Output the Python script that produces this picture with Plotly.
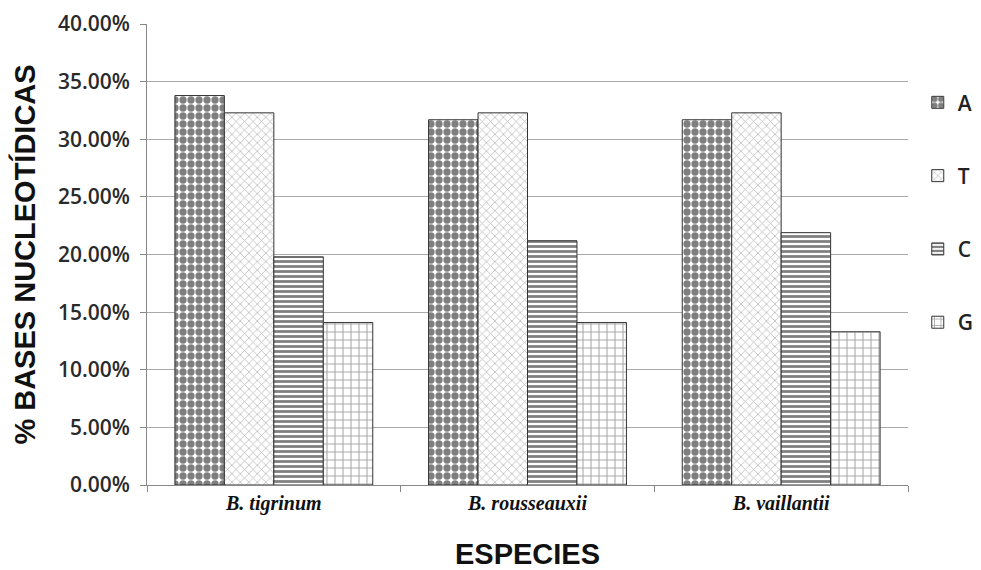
import plotly.graph_objects as go

species = ["<i>B. tigrinum</i>", "<i>B. rousseauxii</i>", "<i>B. vaillantii</i>"]
bases = ["A", "T", "C", "G"]
val_A = [0.338, 0.317, 0.317]
val_T = [0.323, 0.323, 0.323]
val_C = [0.198, 0.212, 0.219]
val_G = [0.141, 0.141, 0.133]
y_ticks = [0, 0.05, 0.10, 0.15, 0.20, 0.25, 0.30, 0.35, 0.40]

series = {"A": val_A, "T": val_T, "C": val_C, "G": val_G}
patterns = {
    "A": dict(shape=".", fgcolor="#000000", bgcolor="#ffffff", size=8, solidity=0.65),
    "T": dict(shape="x", fgcolor="#777777", bgcolor="#ffffff", size=6, solidity=0.25),
    "C": dict(shape="-", fgcolor="#000000", bgcolor="#ffffff", size=5, solidity=0.55),
    "G": dict(shape="+", fgcolor="#555555", bgcolor="#ffffff", size=8, solidity=0.25),
}

fig = go.Figure()
for b in bases:
    fig.add_trace(go.Bar(
        x=species, y=series[b], name=b, legendgroup=b,
        marker=dict(color="#ffffff", pattern=patterns[b],
                    line=dict(color="#333333", width=1)),
    ))

fig.update_layout(
    width=973, height=562,
    margin=dict(l=139, r=73, t=16, b=85, autoexpand=False),
    paper_bgcolor="#ffffff", plot_bgcolor="#ffffff",
    barmode="group", bargap=0.22, bargroupgap=0,
    font=dict(family="Liberation Sans, Arial", color="#222222"),
    legend=dict(xref="container", yref="container", x=0.935, y=0.868,
                xanchor="left", yanchor="top",
                tracegroupgap=43,
                font=dict(size=21, family="Open Sans, Liberation Sans", color="#222222", weight=600)),
    showlegend=True,
)
fig.update_yaxes(
    range=[0, 0.4001], tickvals=y_ticks, tickformat=".2%",
    showgrid=True, gridcolor="#aaaaaa", gridwidth=1,
    showline=True, linecolor="#888888", linewidth=1,
    ticks="outside", ticklen=6, tickcolor="#888888", ticklabelstandoff=6,
    ticklabeloverflow="allow",
    tickfont=dict(size=21, family="Open Sans, Liberation Sans", color="#2a2a2a", weight=600),
    title=dict(text="<b>% BASES NUCLEOTÍDICAS</b>",
               font=dict(size=29, family="Liberation Sans, Arial", color="#111111"), standoff=16),
    zeroline=False,
)
fig.update_xaxes(
    showline=True, linecolor="#888888", linewidth=1,
    ticks="outside", tickson="boundaries", ticklen=6, tickcolor="#888888",
    tickfont=dict(size=20, family="Liberation Serif, Times New Roman", color="#111111", weight="bold"),
    title=dict(text="<b>ESPECIES</b>",
               font=dict(size=29, family="Liberation Sans, Arial", color="#111111"), standoff=37),
)
fig.write_html("out.html")
